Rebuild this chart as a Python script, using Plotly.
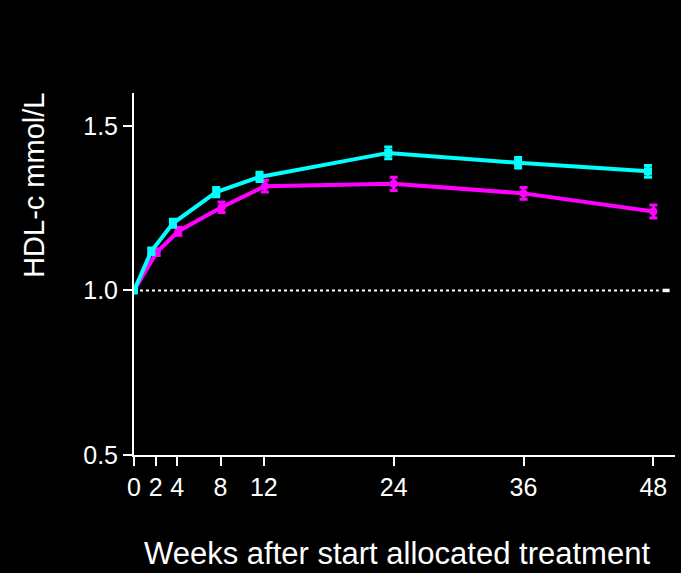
import plotly.graph_objects as go

weeks = [0, 2, 4, 8, 12, 24, 36, 48]
cyan_x = [0, 1.6, 3.6, 7.6, 11.6, 23.5, 35.5, 47.5]
cyan_y = [1.0, 1.119, 1.204, 1.299, 1.345, 1.418, 1.388, 1.362]
cyan_err = [0, 0.01, 0.012, 0.014, 0.014, 0.018, 0.016, 0.018]
mag_x = [0, 2.1, 4.1, 8.1, 12.1, 24.0, 36.0, 48.0]
mag_y = [1.0, 1.116, 1.180, 1.253, 1.317, 1.324, 1.295, 1.240]
mag_err = [0, 0.01, 0.012, 0.016, 0.018, 0.02, 0.018, 0.02]
yticks = [0.5, 1.0, 1.5]
ylabels = ["0.5", "1.0", "1.5"]

FONT = "Liberation Sans, Arial, sans-serif"

fig = go.Figure()
fig.add_trace(go.Scatter(
    x=mag_x, y=mag_y, mode="lines+markers",
    line=dict(color="#FF00FF", width=4),
    marker=dict(color="#FF00FF", size=8, symbol="circle"),
    error_y=dict(type="data", array=mag_err, color="#FF00FF", thickness=3, width=4),
    showlegend=False,
))
fig.add_trace(go.Scatter(
    x=cyan_x, y=cyan_y, mode="lines+markers",
    line=dict(color="#00FFFF", width=4),
    marker=dict(color="#00FFFF", size=8, symbol="square"),
    error_y=dict(type="data", array=cyan_err, color="#00FFFF", thickness=3, width=4),
    showlegend=False,
))

fig.add_shape(type="line", xref="x", yref="y", x0=0, x1=48.5, y0=1.0, y1=1.0,
              line=dict(color="white", width=2, dash="dot"), layer="below")
fig.add_shape(type="line", xref="x", yref="y", x0=48.85, x1=49.5, y0=1.0, y1=1.0,
              line=dict(color="white", width=3.5))

fig.update_layout(
    width=681, height=573,
    paper_bgcolor="black", plot_bgcolor="black",
    margin=dict(l=134, r=6, t=93, b=118),
    font=dict(family=FONT, color="white", size=25),
    xaxis=dict(
        range=[0, 50], tickmode="array", tickvals=weeks,
        ticktext=[str(w) for w in weeks],
        showgrid=False, zeroline=False, showline=True, linecolor="white", linewidth=2,
        ticks="outside", ticklen=9, tickwidth=2, tickcolor="white",
        tickfont=dict(size=25, color="white", family=FONT),
    ),
    yaxis=dict(
        range=[0.5, 1.6], tickmode="array", tickvals=yticks, ticktext=ylabels,
        showgrid=False, zeroline=False, showline=True, linecolor="white", linewidth=2,
        ticks="outside", ticklen=9, tickwidth=2, tickcolor="white",
        tickfont=dict(size=25, color="white", family=FONT),
    ),
    annotations=[
        dict(text="HDL-c mmol/L", xref="paper", yref="paper", x=-0.185, y=0.746,
             xanchor="center", yanchor="middle", textangle=-90, showarrow=False,
             font=dict(size=29, color="white", family=FONT)),
        dict(text="Weeks after start allocated treatment", xref="paper", yref="paper",
             x=0.486, y=-0.271, xanchor="center", yanchor="middle", showarrow=False,
             font=dict(size=31, color="white", family=FONT)),
    ],
)

fig.write_html("out.html")
